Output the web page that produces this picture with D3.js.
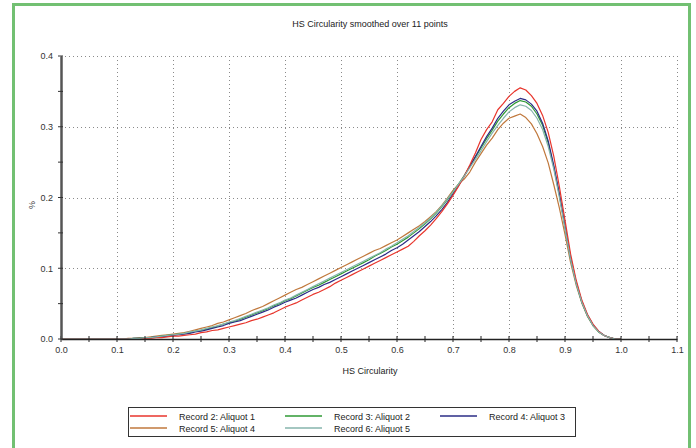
<!DOCTYPE html>
<html><head><meta charset="utf-8">
<script src="https://cdn.jsdelivr.net/npm/d3@7"></script>
<style>
html,body{margin:0;padding:0;background:#fff;}
svg{display:block;font-family:"Liberation Sans",Arial,sans-serif;}
</style></head>
<body>
<svg id="chart" width="696" height="448"></svg>
<script>
// ---- data (x from 0.00 to 1.00, step 0.01) ----
const xStep = 0.01;
const xTicks = [0.0,0.1,0.2,0.3,0.4,0.5,0.6,0.7,0.8,0.9,1.0,1.1];
const yTicks = [0.0,0.1,0.2,0.3,0.4];
const seriesNames = ["Record 2: Aliquot 1","Record 3: Aliquot 2","Record 4: Aliquot 3","Record 5: Aliquot 4","Record 6: Aliquot 5"];
const seriesColors = ["#e8352c","#2f9a34","#2b2c86","#c0783c","#86b4ac"];

const rec2 = [
0,0,0,0,0,0,0,0,0,0,
0,0,0,0,0,.001,.001,.002,.002,.003,
.004,.004,.005,.006,.007,.009,.010,.012,.013,.015,
.017,.019,.021,.023,.026,.028,.031,.034,.037,.041,
.045,.048,.051,.055,.059,.063,.066,.070,.074,.079,
.083,.087,.091,.095,.099,.103,.107,.111,.115,.119,
.123,.127,.131,.138,.146,.153,.161,.170,.180,.191,
.203,.216,.230,.246,.263,.282,.296,.307,.324,.333,
.343,.350,.355,.352,.344,.333,.316,.292,.258,.215,
.168,.120,.083,.055,.035,.021,.011,.005,.002,0,
0];
const rec3 = [
0,0,0,0,0,0,0,0,0,0,
0,0,0,.001,.001,.002,.002,.003,.004,.005,
.006,.007,.008,.009,.011,.012,.014,.016,.018,.021,
.023,.025,.028,.031,.034,.037,.040,.043,.047,.050,
.054,.057,.061,.065,.069,.073,.076,.080,.084,.088,
.092,.096,.100,.104,.108,.112,.117,.121,.125,.130,
.134,.139,.144,.150,.156,.163,.170,.178,.187,.197,
.208,.219,.231,.244,.257,.270,.283,.295,.308,.318,
.327,.333,.337,.335,.329,.318,.302,.277,.243,.203,
.158,.113,.079,.052,.033,.019,.010,.005,.002,0,
0];
const rec4 = [
0,0,0,0,0,0,0,0,0,0,
0,0,0,.001,.001,.001,.002,.003,.003,.004,
.005,.006,.007,.008,.010,.011,.013,.015,.017,.019,
.022,.024,.026,.029,.032,.035,.038,.041,.045,.048,
.052,.055,.058,.062,.066,.070,.073,.077,.080,.084,
.088,.092,.096,.100,.104,.108,.112,.116,.120,.125,
.129,.134,.140,.146,.152,.159,.166,.174,.183,.193,
.205,.217,.230,.244,.258,.272,.286,.298,.312,.322,
.331,.336,.340,.338,.332,.322,.305,.280,.245,.205,
.160,.115,.080,.053,.034,.020,.011,.005,.002,0,
0];
const rec5 = [
0,0,0,0,0,0,0,0,0,0,
0,0,.001,.001,.002,.002,.003,.004,.005,.006,
.007,.008,.009,.011,.013,.015,.017,.019,.022,.024,
.027,.030,.033,.036,.040,.043,.046,.050,.054,.058,
.062,.066,.070,.073,.077,.081,.085,.089,.093,.097,
.101,.105,.109,.113,.117,.121,.125,.128,.132,.136,
.140,.145,.150,.155,.160,.166,.173,.180,.189,.199,
.210,.219,.226,.236,.250,.262,.274,.284,.296,.305,
.312,.315,.318,.313,.304,.290,.272,.249,.218,.185,
.148,.108,.076,.051,.032,.019,.010,.005,.002,0,
0];
const rec6 = [
0,0,0,0,0,0,0,0,0,0,
0,0,0,.001,.001,.002,.002,.003,.004,.005,
.006,.007,.008,.010,.011,.013,.015,.017,.019,.021,
.024,.026,.029,.032,.035,.038,.041,.044,.048,.051,
.055,.058,.062,.066,.070,.074,.078,.082,.086,.090,
.094,.098,.102,.106,.110,.114,.118,.122,.127,.131,
.136,.141,.146,.152,.158,.164,.171,.179,.188,.198,
.208,.219,.230,.242,.254,.266,.279,.291,.302,.312,
.321,.327,.331,.329,.323,.312,.296,.272,.240,.200,
.156,.112,.078,.052,.033,.019,.010,.005,.002,0,
0];
const seriesValues = [rec2, rec3, rec4, rec5, rec6];

// ---- layout ----
const svg = d3.select("#chart");
const L = 61, R = 677, T = 56, B = 339;
const x = d3.scaleLinear().domain([0, 1.1]).range([L, R]);
const y = d3.scaleLinear().domain([0, 0.4]).range([B, T]);

// frame
svg.append("rect").attr("x",13.5).attr("y",4.5).attr("width",676).attr("height",470)
  .attr("fill","#fff").attr("stroke","#72c072").attr("stroke-width",3);

// title
svg.append("text").attr("x",370).attr("y",27).attr("text-anchor","middle")
  .attr("font-size",9).attr("fill","#222").text("HS Circularity smoothed over 11 points");

// grid
const grid = svg.append("g").attr("stroke","#8a8a8a").attr("stroke-width",1).attr("stroke-dasharray","1,3");
grid.selectAll("line.h").data(yTicks.filter(d=>d>0)).join("line")
  .attr("x1",L).attr("x2",R).attr("y1",d=>Math.round(y(d))+0.5).attr("y2",d=>Math.round(y(d))+0.5);
grid.selectAll("line.v").data(xTicks.filter(d=>d>0)).join("line")
  .attr("y1",T).attr("y2",B).attr("x1",d=>Math.round(x(d))+0.5).attr("x2",d=>Math.round(x(d))+0.5);

// series
const line = d3.line().x((d,i)=>x(i*xStep)).y(d=>y(d));
const order = [3,1,2,0,4];
order.forEach(k=>{
  svg.append("path").datum(seriesValues[k]).attr("d",line)
    .attr("fill","none").attr("stroke",seriesColors[k]).attr("stroke-width",1.2)
    .attr("stroke-linejoin","round");
});

// x axis
const xAxis = d3.axisBottom(x).tickValues(xTicks).tickFormat(d3.format(".1f")).tickSize(0).tickPadding(8);
const gx = svg.append("g").attr("transform",`translate(0,${B})`).call(xAxis);
gx.select(".domain").attr("stroke","#222").attr("stroke-width",1.5);
gx.selectAll("text").attr("font-size",9).attr("fill","#333").attr("font-family","Liberation Sans, Arial, sans-serif");
const xMinor = d3.range(0, 1.1001, 0.05);
svg.append("g").selectAll("line").data(xMinor).join("line")
  .attr("x1",d=>x(d)).attr("x2",d=>x(d)).attr("y1",B-3).attr("y2",B+3)
  .attr("stroke","#222").attr("stroke-width",1);

// y axis
const yAxis = d3.axisLeft(y).tickValues(yTicks).tickFormat(d3.format(".1f")).tickSize(0).tickPadding(8);
const gy = svg.append("g").attr("transform",`translate(${L},0)`).call(yAxis);
gy.select(".domain").attr("stroke","#555").attr("stroke-width",2.5);
gy.selectAll("text").attr("font-size",9).attr("fill","#333").attr("font-family","Liberation Sans, Arial, sans-serif");
const yMinor = d3.range(0, 0.4001, 0.05);
svg.append("g").selectAll("line").data(yMinor).join("line")
  .attr("x1",L-3).attr("x2",L+2).attr("y1",d=>y(d)).attr("y2",d=>y(d))
  .attr("stroke","#333").attr("stroke-width",1);

// axis labels
svg.append("text").attr("x",370).attr("y",374).attr("text-anchor","middle")
  .attr("font-size",9).attr("fill","#222").text("HS Circularity");
svg.append("text").attr("transform","translate(35,205) rotate(-90)").attr("text-anchor","middle")
  .attr("font-size",9).attr("fill","#444").text("%");

// legend
const lg = svg.append("g");
lg.append("rect").attr("x",128.5).attr("y",407.5).attr("width",447).attr("height",29)
  .attr("fill","#fff").attr("stroke","#333").attr("stroke-width",1);
const legPos = [[0,0],[1,0],[2,0],[0,1],[1,1]];
const colX = [130, 285, 440], rowY = [416, 428];
seriesNames.forEach((nm,k)=>{
  const [c,r] = legPos[k];
  lg.append("line").attr("x1",colX[c]).attr("x2",colX[c]+37).attr("y1",rowY[r]).attr("y2",rowY[r])
    .attr("stroke",seriesColors[k]).attr("stroke-width",1.3);
  lg.append("text").attr("x",colX[c]+49).attr("y",rowY[r]+3.5).attr("font-size",9).attr("fill","#222").text(nm);
});
</script>
</body></html>
